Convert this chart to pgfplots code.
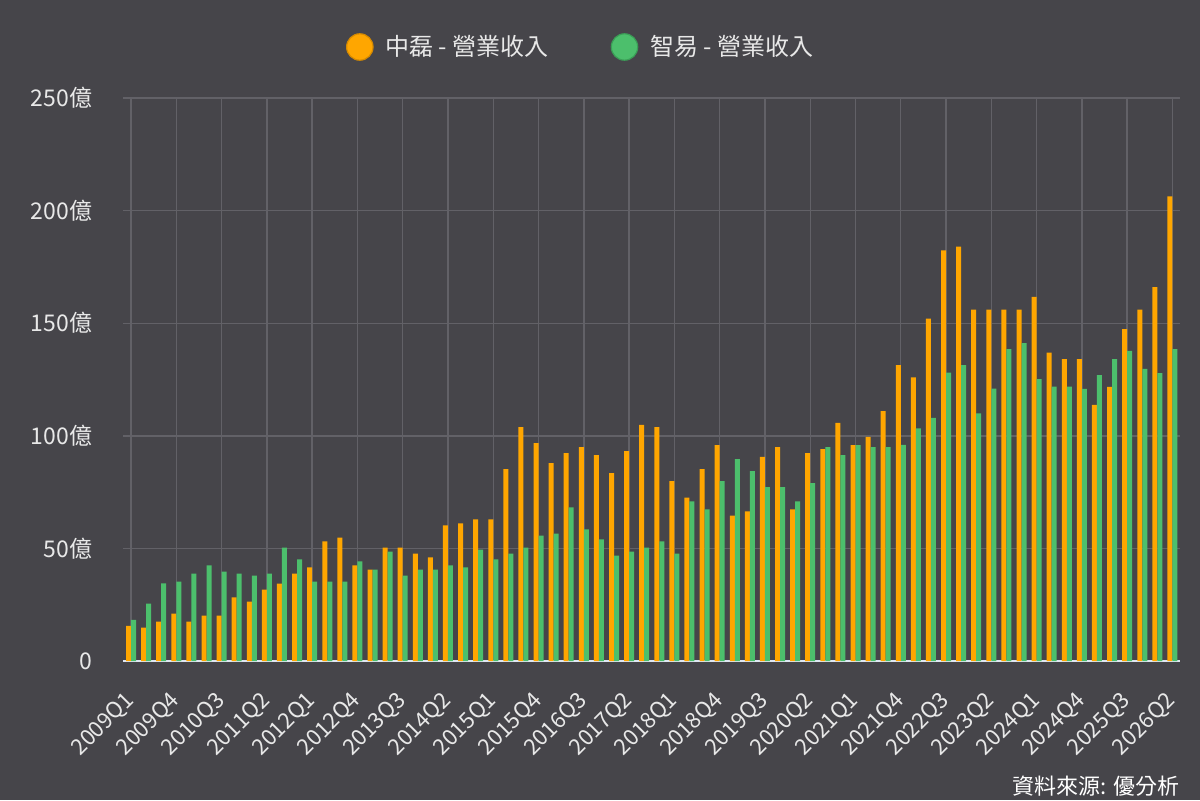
\documentclass[border=0pt]{standalone}
\usepackage{pgfplots}
\usepackage{pgfplotstable}
\pgfplotsset{compat=1.18}
\usepackage{fontspec}
\setmainfont{Noto Sans CJK TC}
\definecolor{bg}{RGB}{70,69,74}
\definecolor{orC}{RGB}{255,166,0}
\definecolor{orD}{RGB}{214,138,0}
\definecolor{grC}{RGB}{76,191,108}
\definecolor{grD}{RGB}{58,158,86}
\definecolor{gridC}{RGB}{98,97,103}
\definecolor{baseC}{RGB}{222,230,242}
\definecolor{txt}{RGB}{232,232,232}

\pgfplotstableread{
x o g
0 15.6 18.3
1 14.8 25.5
2 17.5 34.5
3 21.0 35.3
4 17.5 38.8
5 20.2 42.5
6 20.2 39.7
7 28.2 38.8
8 26.4 37.9
9 31.7 38.8
10 34.4 50.4
11 38.8 45.1
12 41.6 35.3
13 53.1 35.3
14 54.8 35.3
15 42.5 44.2
16 40.6 40.6
17 50.4 48.6
18 50.4 37.9
19 47.7 40.6
20 46.0 40.6
21 60.2 42.5
22 61.1 41.6
23 62.9 49.5
24 62.9 45.1
25 85.2 47.7
26 103.9 50.4
27 96.8 55.7
28 87.9 56.6
29 92.3 68.2
30 95.0 58.4
31 91.4 54.0
32 83.4 46.8
33 93.2 48.6
34 104.8 50.4
35 103.9 53.1
36 79.9 47.7
37 72.6 70.9
38 85.2 67.3
39 95.9 79.9
40 64.6 89.7
41 66.4 84.3
42 90.6 77.2
43 95.0 77.2
44 67.3 70.9
45 92.3 79.0
46 94.1 95.0
47 105.7 91.4
48 95.9 95.9
49 99.5 95.0
50 111.0 95.0
51 131.4 96.0
52 126.0 103.3
53 152.0 108.0
54 182.3 128.0
55 184.0 131.4
56 156.0 110.0
57 156.0 121.0
58 156.0 138.5
59 156.0 141.2
60 161.7 125.2
61 136.9 121.8
62 134.0 121.8
63 134.0 120.8
64 113.7 127.0
65 121.7 134.0
66 147.4 137.7
67 156.0 129.7
68 166.0 127.8
69 206.3 138.5
}\datatable

\begin{document}
\begin{tikzpicture}
\path[use as bounding box, fill=bg] (0,0) rectangle (600pt,400pt);
\begin{axis}[
  at={(61.75pt,69.5pt)}, anchor=south west, scale only axis,
  width=528.25pt, height=281.5pt,
  xmin=-0.5, xmax=69.5, ymin=0, ymax=250,
  enlargelimits=false,
  ybar=0pt, bar width=2.5pt,
  axis line style={draw=none},
  major tick length=0pt,
  xtick={0,3,...,69},
  xticklabels={2009Q1,2009Q4,2010Q3,2011Q2,2012Q1,2012Q4,2013Q3,2014Q2,2015Q1,2015Q4,2016Q3,2017Q2,2018Q1,2018Q4,2019Q3,2020Q2,2021Q1,2021Q4,2022Q3,2023Q2,2024Q1,2024Q4,2025Q3,2026Q2},
  ytick={0,50,...,250},
  yticklabels={0,50億,100億,150億,200億,250億},
  xmajorgrids, ymajorgrids,
  grid style={draw=gridC, line width=0.7pt},
  tick label style={text=txt, font=\fontsize{11}{13}\selectfont},
  yticklabel style={anchor=east, inner sep=0pt, xshift=-15.5pt, font=\fontsize{11.5}{13}\selectfont},
  xticklabel style={inner sep=0pt, yshift=-18pt, rotate=45, anchor=east},
  extra y ticks={0},
  extra y tick labels={},
  extra y tick style={grid style={draw=baseC, line width=1.1pt}, major tick length=0pt},
  legend columns=2,
  legend style={at={(0.4337,1.0906)}, anchor=center, draw=none, fill=none,
    text=txt, font=\fontsize{12}{14}\selectfont,
    /tikz/every even column/.append style={column sep=29pt},
    /tikz/every odd column/.append style={column sep=4pt}},
]
\addplot[fill=orC, draw=none,
  legend image code/.code={\draw[fill=orC, draw=orD, line width=0.6pt] (6.5pt,0pt) circle (6.6pt);}]
  table[x=x, y=o] {\datatable};
\addlegendentry{中磊 - 營業收入}
\addplot[fill=grC, draw=none,
  legend image code/.code={\draw[fill=grC, draw=grD, line width=0.6pt] (6.5pt,0pt) circle (6.6pt);}]
  table[x=x, y=g] {\datatable};
\addlegendentry{智易 - 營業收入}
\end{axis}
\node[anchor=east, text=white, font=\fontsize{11}{13}\selectfont, inner sep=0pt] at (590pt,7pt) {資料來源: 優分析};
\end{tikzpicture}
\end{document}
